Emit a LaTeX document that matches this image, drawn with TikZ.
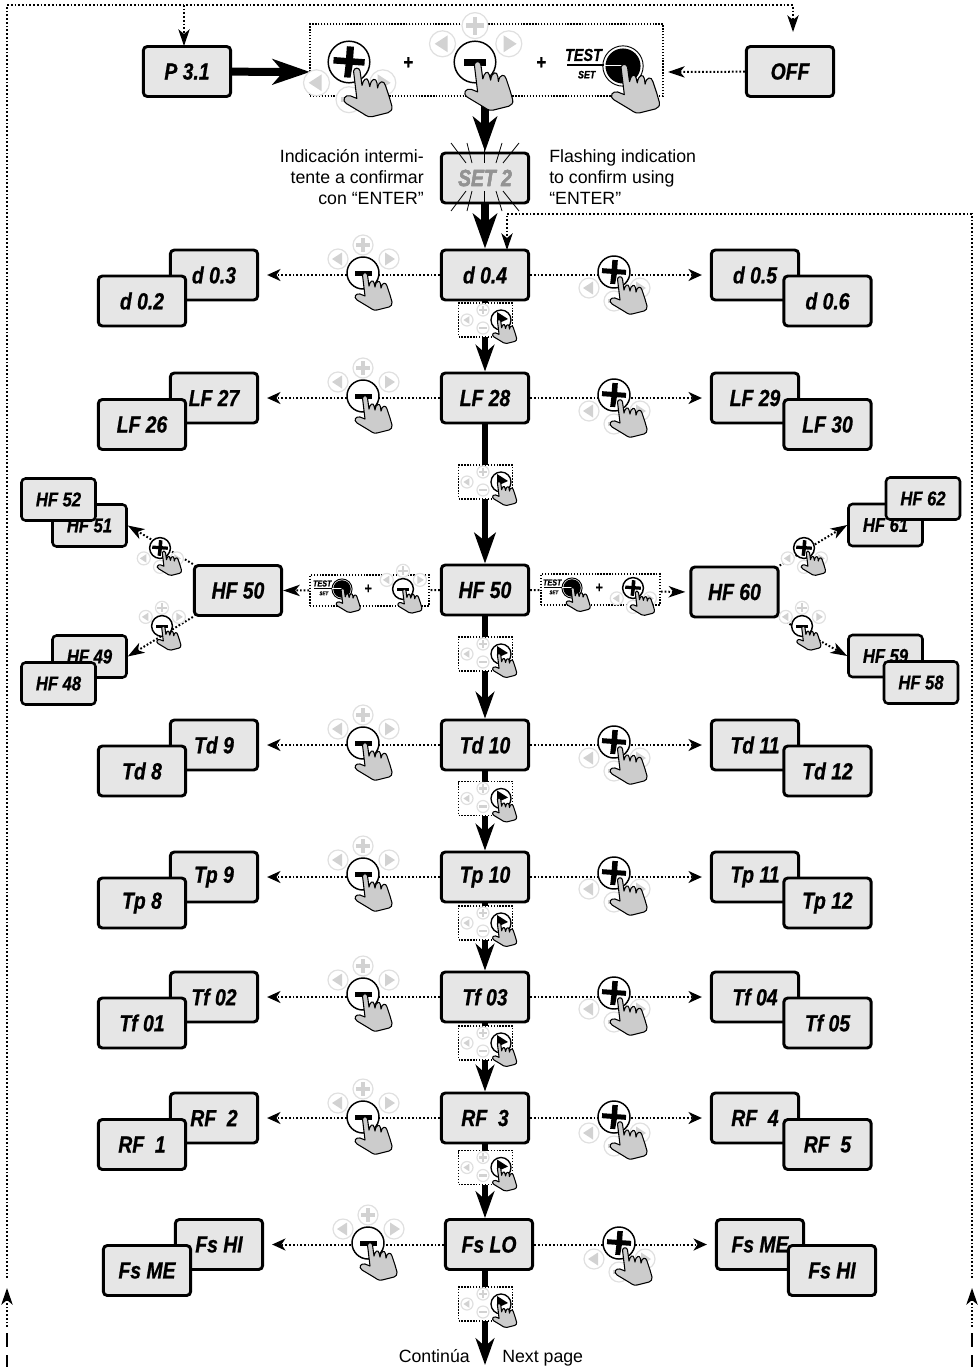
\documentclass[tikz,border=0pt]{standalone}
\usepackage{fontspec}
\usetikzlibrary{arrows.meta}
\setmainfont{Liberation Sans}
\newfontfamily\boxfontbase[FakeStretch=.83,FakeBold=0.8]{Liberation Sans}
\newfontfamily\labfont{Liberation Sans}
\definecolor{boxgray}{HTML}{E6E6E6}
\definecolor{handgray}{HTML}{CCCCCC}
\definecolor{ghostline}{HTML}{E0E0E0}
\definecolor{ghostfill}{HTML}{D2D2D2}
\tikzset{
  bx/.style={draw,line width=2.2pt,rounded corners=3pt,fill=boxgray,minimum width=65.5pt,minimum height=37.5pt,inner sep=0pt,font=\boxfontbase\bfseries\itshape\fontsize{17.5}{19}\selectfont},
  smallbx/.style={bx,line width=1.9pt,minimum width=55.5pt,minimum height=31.5pt,font=\boxfontbase\bfseries\itshape\fontsize{15}{17}\selectfont},
  dotline/.style={line width=1.5pt,dash pattern=on 1.3pt off 1.5pt},
  dotarr/.style={dotline,-{Stealth[length=10pt,width=9pt,inset=3pt,sep=0pt]}},
  dotarrb/.style={dotline,-{Stealth[length=12.5pt,width=8.5pt,inset=3.5pt,sep=0pt]}},
  medarr/.style={line width=4pt,-{Stealth[length=20pt,width=14pt,inset=6pt]}},
  bigarr/.style={line width=6pt,-{Stealth[length=26pt,width=18pt,inset=7pt]}},
  dotbox/.style={draw,line width=1pt,dash pattern=on 1pt off 1.2pt,fill=white,inner sep=0pt},
  handst/.style={draw=black,line width=.8pt,fill=handgray,line join=round},
  ghost/.style={draw=ghostline,line width=.9pt,fill=white},
  gsym/.style={fill=ghostfill,draw=none},
  lab/.style={inner sep=0pt,font=\labfont\fontsize{13.3}{16}\selectfont},
  pluslab/.style={inner sep=0pt,font=\boxfontbase\bfseries\itshape\fontsize{15}{16}\selectfont},
  minusbtn/.pic={
    \gplus{0}{-28}{10}\gleft{-25}{-14}{10}\gright{26}{-14}{10}
    \draw[line width=1.1pt,fill=white] (0,0) circle (16);
    \fill (-8.5,-2) rectangle (8.5,3);
    \drawhand{2}{1}},
  plusbtn/.pic={
    \gleft{-25}{16}{10}\gminus{0}{29}{10}\gright{26}{16}{10}
    \draw[line width=1.1pt,fill=white] (0,0) circle (16);
    \fill[rotate=-4] (-2.5,-12)--(3,-12)--(3,-3)--(12,-3)--(12,2)--(3,2)--(2,12)--(-3,12)--(-2.5,2)--(-12,2)--(-12,-3)--(-2.5,-3)--cycle;
    \drawhand{6}{6}},
  arrowbtn/.pic={
    \gplus{-18}{-10}{6}\gleft{-34}{0}{6}\gminus{-18}{8}{6}
    \draw[line width=1pt,fill=white] (0,0) circle (10);
    \fill (-4,-8)--(7,-1)--(-4,4)--cycle;
    \begin{scope}[scale=.65]\drawhand{-3}{0}\end{scope}},
  testbtn/.pic={
    \draw[line width=.7pt,fill=white] (0,0) circle (15.5);
    \fill (0,0) circle (13.5);
    \node[anchor=south east,inner sep=0pt,transform shape,font=\boxfontbase\bfseries\itshape\fontsize{10}{10}\selectfont] at (-16,-3.5) {TEST};
    \node[anchor=north east,inner sep=0pt,transform shape,font=\boxfontbase\bfseries\itshape\fontsize{6.2}{7}\selectfont] at (-21,3.5) {SET};
    \draw[line width=1pt] (-43,-.7) -- (-15,-.7);
    \draw[white,line width=.8pt] (-15,-.7) -- (1,-.7);
    \drawhand{1}{0}}
}
\newcommand\gplus[3]{\draw[ghost] (#1,#2) circle (#3);
  \begin{scope}[shift={(#1,#2)},scale=#3/10]\fill[gsym] (-1.7,-7)rectangle(1.7,7);\fill[gsym] (-7,-1.7)rectangle(7,1.7);\end{scope}}
\newcommand\gminus[3]{\draw[ghost] (#1,#2) circle (#3);
  \begin{scope}[shift={(#1,#2)},scale=#3/10]\fill[gsym] (-6,-1.7)rectangle(6,1.7);\end{scope}}
\newcommand\gleft[3]{\draw[ghost] (#1,#2) circle (#3);
  \begin{scope}[shift={(#1,#2)},scale=#3/10]\fill[gsym] (-6,0)--(4,-6.5)--(4,6.5)--cycle;\end{scope}}
\newcommand\gright[3]{\draw[ghost] (#1,#2) circle (#3);
  \begin{scope}[shift={(#1,#2)},scale=#3/10]\fill[gsym] (6,0)--(-4,-6.5)--(-4,6.5)--cycle;\end{scope}}
\newcommand\drawhand[2]{\draw[handst,shift={(#1,#2)}]
  (-2.5,1) .. controls (-2,-2) and (2,-2) .. (2.5,1) -- (4,12)
  .. controls (5,7) and (8,5) .. (9,9) -- (10,13)
  .. controls (11,6) and (15,6) .. (15.5,10) -- (16,14)
  .. controls (17,8) and (21,8) .. (22,12) -- (25,21) -- (27,28)
  .. controls (27.5,31) and (26,32) .. (24,33) -- (12,36)
  .. controls (8,37) and (6,34) .. (2,32) -- (-8,26)
  .. controls (-12,23) and (-9,19) .. (-5,20) -- (0,22) -- cycle;}
\begin{document}
\begin{tikzpicture}[x=.75pt,y=-.75pt]
\useasboundingbox (0,0) rectangle (980,1367);
% ---- boxes
\node[bx] (p31) at (187,71.5) {P 3.1};
\node[bx] (off) at (790,71.5) {OFF};
\node[dotbox,minimum width=264.75pt,minimum height=54pt] (grp) at (486.5,60) {};
\node[bx,text=gray!85] (set2) at (485,178) {SET 2};
% main column
\node[bx] (d04) at (485,275) {d 0.4};
\node[bx] (lf28) at (485,398) {LF 28};
\node[bx] (hf50) at (485,590) {HF 50};
\node[bx] (td10) at (485,745) {Td 10};
\node[bx] (tp10) at (485,877) {Tp 10};
\node[bx] (tf03) at (485,997) {Tf 03};
\node[bx] (rf3) at (485,1118) {RF\ \ 3};
\node[bx] (fslo) at (489,1244.5) {Fs LO};
\coordinate (cont) at (485,1365);
% side stacks
\node[bx] (d03) at (214,275) {d 0.3};\node[bx] (d02) at (142,301) {d 0.2};
\node[bx] (d05) at (755,275) {d 0.5};\node[bx] (d06) at (827.5,301) {d 0.6};
\node[bx] (lf27) at (214,398) {LF 27};\node[bx] (lf26) at (142,424.5) {LF 26};
\node[bx] (lf29) at (755,398) {LF 29};\node[bx] (lf30) at (827.5,424.5) {LF 30};
\node[bx] (td9) at (214,745) {Td 9};\node[bx] (td8) at (142,771) {Td 8};
\node[bx] (td11) at (755,745) {Td 11};\node[bx] (td12) at (827.5,771) {Td 12};
\node[bx] (tp9) at (214,877) {Tp 9};\node[bx] (tp8) at (142,903) {Tp 8};
\node[bx] (tp11) at (755,877) {Tp 11};\node[bx] (tp12) at (827.5,903) {Tp 12};
\node[bx] (tf02) at (214,997) {Tf 02};\node[bx] (tf01) at (142,1023) {Tf 01};
\node[bx] (tf04) at (755,997) {Tf 04};\node[bx] (tf05) at (827.5,1023) {Tf 05};
\node[bx] (rf2) at (214,1118) {RF\ \ 2};\node[bx] (rf1) at (142,1144.5) {RF\ \ 1};
\node[bx] (rf4) at (755,1118) {RF\ \ 4};\node[bx] (rf5) at (827.5,1144.5) {RF\ \ 5};
\node[bx] (fshil) at (219,1244.5) {Fs HI};\node[bx] (fsmel) at (147,1270.5) {Fs ME};
\node[bx] (fsmer) at (760,1244.5) {Fs ME};\node[bx] (fshir) at (832,1270.5) {Fs HI};
% HF branch
\node[bx] (hf50l) at (238,590.5) {HF 50};
\node[bx] (hf60) at (734.5,592) {HF 60};
\node[smallbx] (hf51) at (89.5,525.5) {HF 51};\node[smallbx] (hf52) at (58.5,499.5) {HF 52};
\node[smallbx] (hf49) at (89.5,656.5) {HF 49};\node[smallbx] (hf48) at (58.5,683.5) {HF 48};
\node[smallbx] (hf61) at (885.5,525) {HF 61};\node[smallbx] (hf62) at (923,498.5) {HF 62};
\node[smallbx] (hf59) at (885.5,656) {HF 59};\node[smallbx] (hf58) at (921,682.5) {HF 58};
\node[dotbox,minimum width=89.25pt,minimum height=23.25pt] (grpl) at (369.5,590.5) {};
\node[dotbox,minimum width=89.25pt,minimum height=23.25pt] (grpr) at (600.5,589.5) {};
% ---- loop-back connectors
\coordinate (lbot) at (7,1278);\coordinate (ltop) at (7,5);\coordinate (offtop) at (793,5);\coordinate (offin) at (793,46);
\coordinate (pdrop) at (184,5);\coordinate (ptarget) at (184,46);
\coordinate (rbot) at (972,1278);\coordinate (rtop) at (972,214);\coordinate (dtop) at (507,214);\coordinate (dtarget) at (507,250);
\draw[dotarrb,shorten >=10.5pt] (lbot) -- (ltop) -- (offtop) -- (offin);
\draw[dotarrb] (pdrop) -- (ptarget);
\draw[dotarrb] (rbot) -- (rtop) -- (dtop) -- (dtarget);
\foreach \xx/\nm in {7/l,972/r}{
  \coordinate (a\nm) at (\xx,1327);\coordinate (b\nm) at (\xx,1288);
  \coordinate (c\nm) at (\xx,1333);\coordinate (e\nm) at (\xx,1347);
  \coordinate (f\nm) at (\xx,1355);\coordinate (g\nm) at (\xx,1367);
  \draw[dotarrb] (a\nm) -- (b\nm);
  \draw[line width=.8pt] (c\nm) -- (e\nm) (f\nm) -- (g\nm);
}
% ---- thick connectors
\coordinate (pin) at (310,72);\coordinate (offpin) at (668,72);
\draw[bigarr,-{Stealth[length=28pt,width=19pt,inset=8pt]}] (p31) -- (pin);
\draw[dotarrb] (off) -- (offpin);
\draw[bigarr] (set2.north |- grp.south) -- (set2.north);
\draw[bigarr] (set2) -- (d04);
\draw[medarr] (d04) -- (lf28);
\draw[medarr,-{Stealth[length=23pt,width=16pt,inset=6pt]}] (lf28) -- (hf50);
\draw[medarr] (hf50) -- (td10);
\draw[medarr] (td10) -- (tp10);
\draw[medarr] (tp10) -- (tf03);
\draw[medarr] (tf03) -- (rf3);
\draw[medarr] (rf3.south) -- (rf3.south |- fslo.north);
\draw[medarr] (fslo.south -| cont) -- (cont);
% flash rays
\foreach \xa/\xb in {451/466,467/472,484/484,502/496,519/503}{
  \draw[line width=.6pt] (\xa,143) -- (\xb,163);
  \draw[line width=.6pt] (\xb,191) -- (\xa,211);
}
\node[bx,draw=none,fill=none,text=gray!85] at (set2) {SET 2};
% dotted side connectors
\foreach \a/\b in {d04/d03,lf28/lf27,td10/td9,tp10/tp9,tf03/tf02,rf3/rf2,fslo/fshil}{
  \draw[dotarr,shorten >=6pt,yshift=1.5pt] (\a.west) -- (\b.east);}
\foreach \a/\b in {d04/d05,lf28/lf29,td10/td11,tp10/tp11,tf03/tf04,rf3/rf4,fslo/fsmer}{
  \draw[dotarr,shorten >=6pt,yshift=1.5pt] (\a.east) -- (\b.west);}
\draw[dotarrb] (hf50.west) -- (hf50l.east);
\draw[dotarrb,shorten >=3pt] (hf50.east) -- (hf60.west);
\draw[dotarrb] (hf50l.north west) -- (hf51.east);
\draw[dotarrb] (hf50l.south west) -- (hf49.east);
\draw[dotarrb] (hf60.north east) -- (hf61.west);
\draw[dotarrb] (hf60.south east) -- (hf59.west);
\node[dotbox,minimum width=89.25pt,minimum height=23.25pt] at (grpl) {};
\node[dotbox,minimum width=89.25pt,minimum height=23.25pt] at (grpr) {};
% ---- top group
\node[dotbox,fill=none,minimum width=264.75pt,minimum height=54pt] at (grp) {};
\pic[scale=1.3] at (349,62) {plusbtn};
\pic[scale=1.3] at (475,62) {minusbtn};
\pic[scale=1.3] at (623,66) {testbtn};
\node[pluslab] (plusa) at (408,63) {+};
\node[pluslab] (plusb) at (541,63) {+};
% ---- rows
\foreach \yy in {273,396,743,874,994,1117}{\pic at (363,\yy) {minusbtn};}
\pic at (368,1243) {minusbtn};
\foreach \yy in {272,395,742,873,993,1117}{\pic at (614,\yy) {plusbtn};}
\pic at (619,1243) {plusbtn};
% small dotted groups with arrow button
\foreach \yy/\nm in {320/a,482/b,654/c,798.5/d,923/e,1043/f,1167.5/g,1304/h}{
  \node[dotbox,minimum width=40.5pt,minimum height=25.5pt] (sg\nm) at (485.5,\yy) {};
  \pic at (501,\yy) {arrowbtn};
}
% HF groups
\pic[scale=.65] at (342,589) {testbtn};
\pic[scale=.65] at (403,589) {minusbtn};
\node[pluslab,font=\boxfontbase\bfseries\itshape\fontsize{11}{12}\selectfont] (plusc) at (368,589) {+};
\pic[scale=.65] at (572,588) {testbtn};
\pic[scale=.65] at (633,588) {plusbtn};
\node[pluslab,font=\boxfontbase\bfseries\itshape\fontsize{11}{12}\selectfont] (plusd) at (599,588) {+};
\pic[scale=.65] at (160,548) {plusbtn};
\pic[scale=.65] at (162,626) {minusbtn};
\pic[scale=.65] at (804,548) {plusbtn};
\pic[scale=.65] at (802,626) {minusbtn};
% ---- labels
\node[lab,anchor=north east,align=right] (esl) at (424,149) {Indicación intermi-\\tente a confirmar\\con “ENTER”};
\node[lab,anchor=north west,align=left] (enl) at (549,149) {Flashing indication\\to confirm using\\“ENTER”};
\node[lab,anchor=base east] (cnt) at (470,1362) {Continúa};
\node[lab,anchor=base west] (npg) at (502,1362) {Next page};
\end{tikzpicture}
\end{document}
